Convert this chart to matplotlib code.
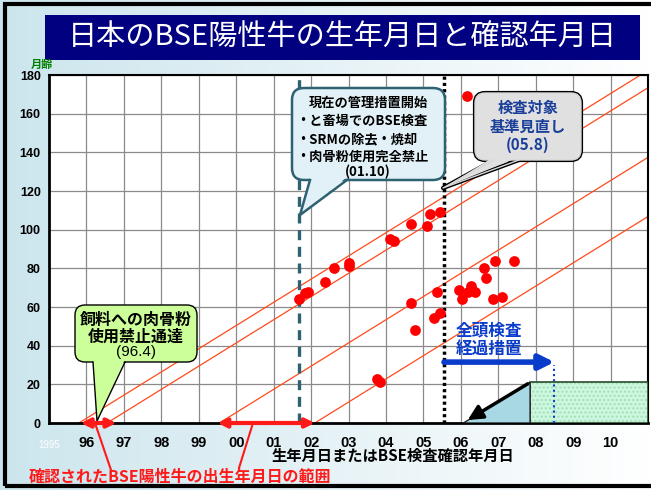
import numpy as np
import matplotlib
matplotlib.use("Agg")
import matplotlib.pyplot as plt
from matplotlib.patches import FancyBboxPatch, Polygon, Rectangle, FancyArrowPatch
from matplotlib.lines import Line2D
from matplotlib.transforms import Affine2D

plt.rcParams['font.family'] = ['Noto Sans CJK JP', 'DejaVu Sans']

# confirmed BSE cases: confirmation date (decimal year) and age in months
confirm_date = [2001.69, 2001.84, 2001.93, 2002.36, 2002.60, 2003.00, 2003.02,
                2004.10, 2004.21, 2004.68, 2005.10, 2005.19, 2005.44,
                2004.68, 2004.77, 2005.28, 2005.44, 2005.36, 2005.94, 2006.02,
                2006.26, 2006.19, 2006.37, 2006.61, 2006.68, 2006.92, 2006.85,
                2007.10, 2007.43, 2006.17, 2003.76, 2003.85]
age_months = [64, 67, 68, 73, 80, 83, 81,
              95, 94, 103, 102, 108, 109,
              62, 48, 54.5, 57, 68, 69, 64,
              71, 68, 68, 80, 75, 84, 64,
              65, 84, 169, 23, 21]

# birth dates bounding the two groups (age lines = 12 months / year)
diag_births = [1995.8, 1996.55, 1999.55, 2002.1]
birth_ranges = [(1995.85, 1996.8), (1999.5, 2002.1)]

# policy dates
feed_ban = 1996.3        # 96.4
full_ban = 2001.68       # 01.10
review = 2005.55         # 05.8
transition_end = 2008.5
exempt_start = 2006.07
exempt_from = 2007.85
exempt_age = 21

years = list(range(1996, 2011))
year_labels = [f"{y % 100:02d}" for y in years]
age_ticks = list(range(0, 181, 20))

fig = plt.figure(figsize=(6.51, 4.9), dpi=100)

# pixel transform (x right, y down, 651x490 canvas)
T = Affine2D().scale(1 / 100, -1 / 100).translate(0, 4.9) + fig.dpi_scale_trans

# background gradient
bg = fig.add_axes([0, 0, 1, 1], zorder=-10)
grad = np.linspace(0, 1, 256)
c0 = np.array([0.80, 0.90, 0.93])
c1 = np.array([1.0, 1.0, 1.0])
img = c0[None, :] * (1 - grad[:, None]) + c1[None, :] * grad[:, None]
bg.imshow(img[None, :, :], aspect='auto', extent=[0, 1, 0, 1])
bg.set_xlim(0, 1)
bg.set_ylim(0, 1)
bg.axis('off')
bg.add_patch(Rectangle((0.007, 0.008), 1.2, 0.984, fill=False, ec='black', lw=3,
                       transform=bg.transAxes))

# title
bg.add_patch(Rectangle((45, 15), 595, 45, transform=T, fc='#000080', ec='none'))
bg.text(342, 38, "日本のBSE陽性牛の生年月日と確認年月日", transform=T, color='white',
        fontsize=21, ha='center', va='center')

ax = fig.add_axes([49 / 651, (490 - 423) / 490, 599 / 651, 348 / 490])
ax.set_facecolor('white')
ax.set_xlim(1995, 2011)
ax.set_ylim(0, 180)
ax.set_xticks(years)
ax.set_xticklabels(year_labels, fontsize=10.5, fontweight='bold',
                   family=['Liberation Sans', 'DejaVu Sans'])
ax.set_yticks(age_ticks)
ax.set_yticklabels([str(a) for a in age_ticks], fontsize=9, fontweight='bold',
                   family=['Liberation Sans', 'DejaVu Sans'])
ax.tick_params(length=0, pad=6)
ax.tick_params(axis='x', pad=9)
ax.grid(True, color='#8a8a8a', lw=0.9)
ax.set_axisbelow(True)
for s in ax.spines.values():
    s.set_linewidth(1.5)
ax.spines['left'].set_linewidth(2)
ax.spines['bottom'].set_linewidth(2)

ax.text(1995, -9, "1995", color='white', fontsize=7, ha='center', va='top',
        family=['Liberation Sans', 'DejaVu Sans'])

# constant birth-date lines
for b in diag_births:
    xs = np.array([b, b + 15])
    ax.plot(xs, (xs - b) * 12, color='#ff4a1c', lw=0.9, zorder=2)

# policy vertical lines
ax.plot([full_ban, full_ban], [0, 180], color='#2e6172', lw=2.4,
        dashes=(3, 2), zorder=3)
ax.plot([review, review], [0, 180], color='black', lw=2.5,
        dashes=(0.9, 0.9), zorder=3)

# exemption regions
ax.add_patch(Rectangle((exempt_from, 0), 2011 - exempt_from, exempt_age,
                       fc='#cdf7df', ec='#9fe0b8', lw=0, hatch='....', zorder=3))
ax.add_patch(Rectangle((exempt_from, 0), 2011 - exempt_from, exempt_age,
                       fill=False, ec='#2a4a2a', lw=1.2, zorder=3))
ax.add_patch(Polygon([(exempt_start, 0), (exempt_from, exempt_age), (exempt_from, 0)],
                     closed=True, fc='#a8d8e4', ec='#222222', lw=1, zorder=3))
ax.add_patch(FancyArrowPatch((exempt_from, exempt_age), (exempt_start + 0.05, 0.8),
                             arrowstyle='-|>', mutation_scale=22, lw=2.5,
                             color='black', zorder=6, clip_on=False))

# transition arrow
ax.add_patch(FancyArrowPatch((review, 31.5), (transition_end, 31.5),
                             arrowstyle='-|>', mutation_scale=22, lw=4,
                             color='#0a3ccc', zorder=6, shrinkA=0, shrinkB=0))
ax.plot([transition_end, transition_end], [0, 30], color='#0a3ccc', lw=1.5,
        ls=(0, (1, 1.5)), zorder=5)
ax.text(2006.75, 47.8, "全頭検査", color='#0a3ccc', fontsize=12, fontweight='bold',
        ha='center', va='center', zorder=7)
ax.text(2006.75, 38.4, "経過措置", color='#0a3ccc', fontsize=12, fontweight='bold',
        ha='center', va='center', zorder=7)

# data points
ax.scatter(confirm_date, age_months, s=60, color='#ff0000', zorder=5, lw=0)

# birth range arrows
for a, b in birth_ranges:
    ax.add_patch(FancyArrowPatch((a, 0), (b, 0), arrowstyle='<|-|>',
                                 mutation_scale=13, lw=3, color='#ff1a1a',
                                 zorder=7, clip_on=False, shrinkA=0, shrinkB=0))

# leader lines from caption to ranges
for (x0, y0), (x1, y1) in [((95, 423), (111, 470)), ((253, 423), (239, 468))]:
    ax.add_line(Line2D([x0, x1], [y0, y1], transform=T, color='#ff1a1a', lw=1.5,
                       zorder=7, clip_on=False))


def callout(x0, y0, x1, y1, bl, br, tip, fc, ec, lw, r, z):
    ax.add_patch(FancyBboxPatch((x0, y0), x1 - x0, y1 - y0,
                                boxstyle=f"round,pad=0,rounding_size={r}",
                                transform=T, fc=fc, ec=ec, lw=lw, zorder=z,
                                clip_on=False))
    ax.add_patch(Polygon([(bl, y1 - 3), tip, (br, y1 - 3)], closed=True,
                         transform=T, fc=fc, ec='none', zorder=z + 0.1,
                         clip_on=False))
    ax.add_line(Line2D([bl, tip[0], br], [y1, tip[1], y1], transform=T,
                       color=ec, lw=lw, zorder=z + 0.2, clip_on=False))


def ptext(x, y, s, **kw):
    ax.text(x, y, s, transform=T, clip_on=False, **kw)


# feed ban callout
callout(75, 305, 197, 362, 93, 125, (97, 421), '#ccff99', 'black', 1, 10, 4)
ptext(136, 320, "飼料への肉骨粉", fontsize=11.5, fontweight='bold', ha='center',
      va='center', zorder=8)
ptext(136, 337, "使用禁止通達", fontsize=11.5, fontweight='bold', ha='center',
      va='center', zorder=8)
ptext(136, 352, "(96.4)", fontsize=11, ha='center', va='center', zorder=8,
      family=['Liberation Sans', 'DejaVu Sans'])

# current measures callout
callout(292, 88, 445, 180, 310, 347, (300, 215), '#e2f1f7', '#2e6172', 1.8, 12, 8)
ptext(368, 103, "現在の管理措置開始", fontsize=9.5, fontweight='bold', ha='center',
      va='center', zorder=9)
ptext(296, 121, "・と畜場でのBSE検査", fontsize=9.5, fontweight='bold', ha='left',
      va='center', zorder=9)
ptext(296, 139, "・SRMの除去・焼却", fontsize=9.5, fontweight='bold', ha='left',
      va='center', zorder=9)
ptext(296, 157, "・肉骨粉使用完全禁止", fontsize=9.5, fontweight='bold', ha='left',
      va='center', zorder=9)
ptext(368, 172, "(01.10)", fontsize=9.5, fontweight='bold', ha='center',
      va='center', zorder=9)

# review callout (double edge)
callout(475, 93, 581, 160, 494, 519, (443, 188), '#e0e0e0', 'black', 3, 10, 8)
callout(475, 93, 581, 160, 494, 519, (443, 188), '#e0e0e0', '#d8d8d8', 1, 10, 8.5)
ptext(528, 108, "検査対象", color='#1a3f9a', fontsize=11, fontweight='bold',
      ha='center', va='center', zorder=9)
ptext(528, 127, "基準見直し", color='#1a3f9a', fontsize=11, fontweight='bold',
      ha='center', va='center', zorder=9)
ptext(528, 145, "(05.8)", color='#1a3f9a', fontsize=11, fontweight='bold',
      ha='center', va='center', zorder=9)

# outer labels
fig.text(42 / 651, 1 - 64 / 490, "月齢", color='#008000', fontsize=8,
         fontweight='bold', ha='center', va='center')
fig.text(393 / 651, 1 - 456 / 490, "生年月日またはBSE検査確認年月日", fontsize=11,
         fontweight='bold', ha='center', va='center')
fig.text(29 / 651, 1 - 477 / 490, "確認されたBSE陽性牛の出生年月日の範囲",
         color='#ff1a1a', fontsize=11.5, fontweight='bold', ha='left', va='center')

fig.savefig("out.png", dpi=100)
